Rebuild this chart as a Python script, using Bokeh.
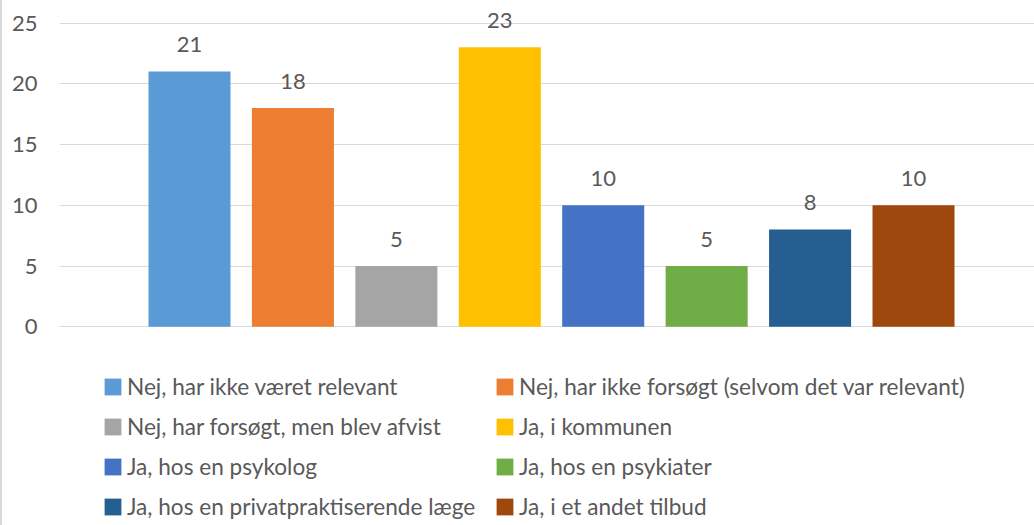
from bokeh.plotting import figure
from bokeh.models import Range1d, FixedTicker, Legend, LegendItem, ColumnDataSource
from bokeh.core.properties import value
from bokeh.embed import file_html
from bokeh.resources import INLINE

labels = [
    "Nej, har ikke været relevant",
    "Nej, har ikke forsøgt (selvom det var relevant)",
    "Nej, har forsøgt, men blev afvist",
    "Ja, i kommunen",
    "Ja, hos en psykolog",
    "Ja, hos en psykiater",
    "Ja, hos en privatpraktiserende læge",
    "Ja, i et andet tilbud",
]
counts = [21, 18, 5, 23, 10, 5, 8, 10]
colors = ["#5B9BD5", "#ED7D31", "#A5A5A5", "#FFC000", "#4472C4", "#70AD47", "#255E91", "#9E480E"]
y_ticks = [0, 5, 10, 15, 20, 25]

FONT = "Lato"
TXT = "#595959"

W, H = 1034, 525
p = figure(width=W, height=H, output_backend="svg", toolbar_location=None,
           x_axis_location=None, x_range=Range1d(-1.2569, 8.1698),
           y_range=Range1d(-16.351, 26.852),
           min_border_left=59, min_border_right=0, min_border_top=0, min_border_bottom=0)
p.outline_line_color = None
p.border_fill_alpha = 0
p.styles = {"box-shadow": "inset 2px 0 0 #D9D9D9", "background-color": "white"}
p.xgrid.visible = False
p.ygrid.grid_line_color = "#D9D9D9"
p.ygrid.grid_line_width = 1
p.yaxis.ticker = FixedTicker(ticks=y_ticks)
p.yaxis.axis_line_color = None
p.yaxis.major_tick_line_color = None
p.yaxis.minor_tick_line_color = None
p.yaxis.major_tick_out = 0
p.yaxis.major_tick_in = 0
p.yaxis.major_label_standoff = 22
p.yaxis.major_label_text_font = FONT
p.yaxis.major_label_text_font_size = "22px"
p.yaxis.major_label_text_color = TXT

renderers = []
for i, (lab, c, col) in enumerate(zip(labels, counts, colors)):
    src = ColumnDataSource(dict(x=[i], top=[c], t=[str(c)]))
    r = p.vbar(x="x", top="top", bottom=0, width=0.793, source=src,
               fill_color=col, line_color=None)
    renderers.append(r)
    p.text(x="x", y="top", text="t", source=src, text_align="center",
           text_baseline="alphabetic", y_offset=-27,
           text_font=value(FONT), text_font_size="22px", text_color=TXT)

def make_legend(idxs, x):
    items = [LegendItem(label=labels[i], renderers=[renderers[i]]) for i in idxs]
    lg = Legend(items=items, location=(x, 5), padding=0, margin=0,
                border_line_color=None, background_fill_alpha=0,
                glyph_width=21, glyph_height=21, label_height=21,
                label_standoff=4, spacing=13,
                label_text_font=FONT, label_text_font_size="22.6px",
                label_text_color=TXT)
    p.add_layout(lg)

make_legend([0, 2, 4, 6], 43)
make_legend([1, 3, 5, 7], 435)

open("out.html", "w").write(file_html(p, INLINE))
